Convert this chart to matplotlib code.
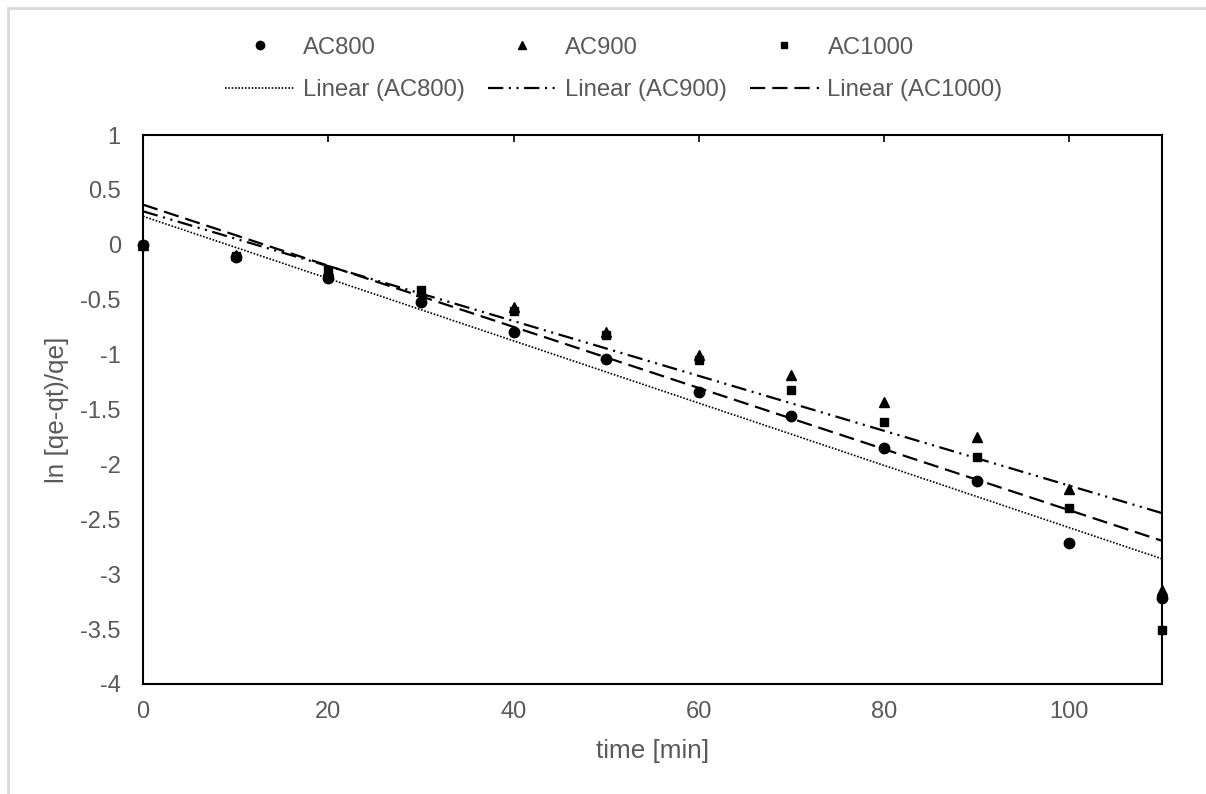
import numpy as np
import matplotlib
matplotlib.use("Agg")
import matplotlib.pyplot as plt
import matplotlib.patches as mpatches
from matplotlib.ticker import FuncFormatter, MultipleLocator

plt.rcParams['font.family'] = ['Liberation Sans', 'DejaVu Sans']
plt.rcParams['axes.unicode_minus'] = False
plt.rcParams['lines.scale_dashes'] = False

# time [min]
time_min = [0, 10, 20, 30, 40, 50, 60, 70, 80, 90, 100, 110]

# ln [qe-qt)/qe] for each carbon
ac800 = [0, -0.11, -0.30, -0.52, -0.79, -1.04, -1.34, -1.56, -1.85, -2.15, -2.72, -3.22]
ac900 = [0, -0.09, -0.23, -0.42, -0.57, -0.79, -1.00, -1.19, -1.43, -1.75, -2.22, -3.14]
ac1000 = [0, -0.10, -0.23, -0.41, -0.60, -0.82, -1.05, -1.32, -1.61, -1.93, -2.40, -3.51]

names = ["AC800", "AC900", "AC1000"]
grey = "#595959"

fig = plt.figure(figsize=(12.06, 7.94), dpi=100)
ax = fig.add_axes([143 / 1206, 1 - 684 / 794, (1162 - 143) / 1206, (684 - 135) / 794])

# light chart border (cut off at right/bottom like the original)
fig.patches.append(mpatches.Rectangle(
    (8 / 1206, -0.1), 1.2, 1 - 8 / 794 + 0.1,
    transform=fig.transFigure, fill=False, edgecolor="#d9d9d9", linewidth=2
))

x = np.array(time_min)
xfit = np.array([0, 110])
markers = ["o", "^", "s"]
msizes = [7.5, 7.5, 6]
styles = [
    (0, (1.2, 1.2)),
    (0, (11, 4, 1.5, 4, 1.5, 4)),
    (0, (11, 5)),
]
lws = [1.2, 1.6, 1.6]

handles = []
for name, y, mk, ms, ls, lw in zip(names, [ac800, ac900, ac1000], markers, msizes, styles, lws):
    y = np.array(y)
    slope, icpt = np.polyfit(x, y, 1)
    h1, = ax.plot(x, y, linestyle="none", marker=mk, markersize=ms, color="black",
                  label=name, zorder=4, clip_on=False)
    h2, = ax.plot(xfit, slope * xfit + icpt, color="black", linestyle=ls, linewidth=lw,
                  label="Linear (%s)" % name, zorder=3)
    handles += [h1, h2]

ax.set_xlim(0, 110)
ax.set_ylim(-4, 1)
ax.xaxis.set_major_locator(MultipleLocator(20))
ax.yaxis.set_major_locator(MultipleLocator(0.5))
ax.yaxis.set_major_formatter(FuncFormatter(lambda v, p: "%g" % v))

for s in ax.spines.values():
    s.set_linewidth(1.5)
    s.set_color("black")

ax.tick_params(axis="x", direction="in", length=5, width=1.2, top=True, bottom=False,
               labeltop=False, labelbottom=True, pad=12, labelsize=17, labelcolor=grey)
ax.tick_params(axis="y", length=0, pad=16, labelsize=17, labelcolor=grey)

ax.set_xlabel("time [min]", fontsize=18.8, color=grey, labelpad=12)
ax.set_ylabel("ln [qe-qt)/qe]", fontsize=18.8, color=grey, labelpad=8)

leg = fig.legend(handles=handles, loc="center", bbox_to_anchor=(614 / 1206, 1 - 69 / 794),
                 ncol=3, frameon=False, fontsize=17.2, handlelength=2.9, handletextpad=0.35,
                 columnspacing=0.95, labelspacing=0.85, markerscale=0.8)
for t in leg.get_texts():
    t.set_color(grey)

fig.savefig("out.png", dpi=100)
